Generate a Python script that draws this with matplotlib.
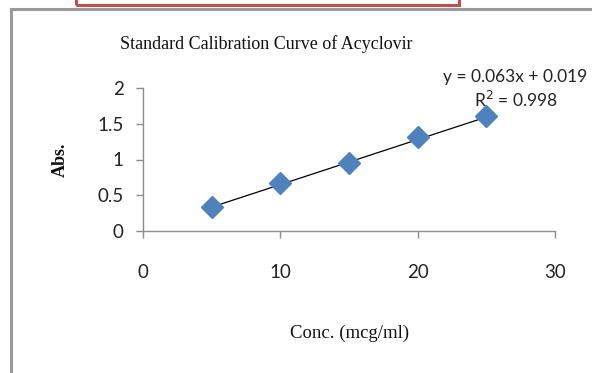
import matplotlib
matplotlib.use("Agg")
import matplotlib.pyplot as plt
from matplotlib.patches import Rectangle
from matplotlib.lines import Line2D

# Calibration data
conc = [5, 10, 15, 20, 25]
absorbance = [0.34, 0.67, 0.95, 1.31, 1.61]
slope = 0.063
intercept = 0.019
r_squared = 0.998
x_ticks = [0, 10, 20, 30]
y_ticks = [0, 0.5, 1, 1.5, 2]
y_tick_labels = ["0", "0.5", "1", "1.5", "2"]

W, H = 592, 373
fig = plt.figure(figsize=(W / 100, H / 100), dpi=100)
fig.patch.set_facecolor("white")

# Chart frame and the box above it
fig.add_artist(Line2D([11 / W, 11 / W], [0, 1 - 9 / H], transform=fig.transFigure,
                      color="#9a9a9a", lw=2.2))
fig.add_artist(Line2D([11 / W, 1], [1 - 9 / H, 1 - 9 / H], transform=fig.transFigure,
                      color="#9a9a9a", lw=2.2))
fig.add_artist(Rectangle((76 / W, 1 - 5 / H), 383 / W, 0.05, transform=fig.transFigure,
                         fill=False, edgecolor="#c0504d", lw=2.2))

ax = fig.add_axes([143 / W, 1 - 231 / H, (555 - 143) / W, (231 - 88) / H])
ax.set_xlim(0, 30)
ax.set_ylim(0, 2)

tick_font = "Lato"
ax.set_xticks(x_ticks)
ax.set_xticklabels([str(t) for t in x_ticks], fontsize=13.5, family=tick_font, color="#222222")
ax.set_yticks(y_ticks)
ax.set_yticklabels(y_tick_labels, fontsize=13.5, family=tick_font, color="#222222")
ax.tick_params(axis="x", direction="out", length=5, width=1, color="#8c8c8c", pad=19)
ax.tick_params(axis="y", direction="out", length=5, width=1, color="#8c8c8c", pad=9)
for side in ("top", "right"):
    ax.spines[side].set_visible(False)
for side in ("left", "bottom"):
    ax.spines[side].set_color("#8c8c8c")
    ax.spines[side].set_linewidth(1)

# Linear trendline
fit_x = [conc[0], conc[-1]]
fit_y = [slope * x + intercept for x in fit_x]
ax.plot(fit_x, fit_y, color="black", lw=0.9, zorder=2)

ax.plot(conc, absorbance, linestyle="none", marker="D", markersize=11.5,
        color="#4f81bd", markeredgecolor="#4f81bd", zorder=3, clip_on=False)

fig.text(515 / W, 1 - 77 / H, f"y = {slope}x + {intercept}", ha="center", va="center",
         fontsize=12.5, family=tick_font, color="#222222")
fig.text(516 / W, 1 - 100 / H, f"R$^2$ = {r_squared}", ha="center", va="center",
         fontsize=12.5, family=tick_font, color="#222222")

serif = "Liberation Serif"
fig.text(266 / W, 1 - 44 / H, "Standard Calibration Curve of Acyclovir", ha="center",
         va="center", fontsize=13, family=serif, color="#111111")
fig.text(60 / W, 1 - 160 / H, "Abs.", ha="center", va="center", rotation=90,
         fontsize=13, family=serif, weight="bold", color="#111111")
fig.text(350 / W, 1 - 333 / H, "Conc. (mcg/ml)", ha="center", va="center",
         fontsize=13.5, family=serif, color="#111111")

fig.savefig("out.png", dpi=100, facecolor="white")
